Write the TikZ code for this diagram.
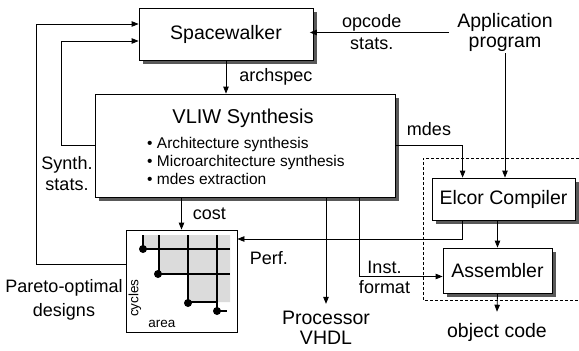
\documentclass[tikz,border=0pt]{standalone}
\usepackage{fontspec}
\setmainfont{Liberation Sans}
\usetikzlibrary{arrows.meta,shadows}

\begin{document}
\begin{tikzpicture}[
  x=1pt,y=-1pt,
  every node/.style={font=\fontsize{18}{21}\selectfont,align=center,inner sep=1pt},
  box/.style={draw,fill=white,line width=0.8pt,inner sep=0pt,font=\fontsize{19.5}{22}\selectfont,
    general shadow={fill=black!65,shadow xshift=3.5pt,shadow yshift=-3.5pt}},
  arr/.style={-{Triangle[length=7pt,width=5.5pt]},line width=0.8pt},
  bigtext/.style={font=\fontsize{19.5}{20.5}\selectfont},
  listtext/.style={font=\fontsize{15.5}{18}\selectfont,align=left},
  axis/.style={font=\fontsize{13.5}{14}\selectfont},
  frontier/.style={line width=1.4pt}
]
\useasboundingbox (0,0) rectangle (579,351);

% dashed frame round the compiler
\draw[line width=0.6pt,dash pattern=on 3pt off 2pt] (579,158) -- (423,158) -- (423,300) -- (579,300);

\node[box,minimum width=174pt,minimum height=52pt] (sw) at (226,34) {Spacewalker};
\node[box,minimum width=300pt,minimum height=103pt] (vliw) at (245,145.5) {};
\node[font=\fontsize{20}{22}\selectfont] (vliwtitle) at (243,118) {VLIW Synthesis};
\node[listtext,anchor=west] (vliwlist) at (146,161) {\textbullet\ Architecture synthesis\\\textbullet\ Microarchitecture synthesis\\\textbullet\ mdes extraction};
\node[box,minimum width=143pt,minimum height=42pt] (elcor) at (503.5,199) {Elcor Compiler};
\node[box,minimum width=109pt,minimum height=45pt] (asm) at (497.5,270.5) {Assembler};

\node[bigtext] (app) at (505,32.5) {Application\\program};
\node[bigtext] (vhdl) at (326,328) {Processor\\VHDL};
\node[bigtext] (objcode) at (497,332) {object code};
\node (synth) at (67,174) {Synth.\\stats.};
\node[font=\fontsize{18}{24}\selectfont] (paretolbl) at (64,300) {Pareto-optimal\\designs};

% pareto plot
\node[draw,line width=0.8pt,minimum width=111pt,minimum height=102pt,inner sep=0pt] (pareto) at (181.5,281) {};
\fill[black!14] (143,235) -- (230,235) -- (230,302) -- (188,302) -- (188,274) -- (159,274) -- (159,249) -- (143,249) -- cycle;
\draw[frontier] (143,235) -- (143,249) -- (230,249);
\draw[frontier] (159,235) -- (159,274) -- (230,274);
\draw[frontier] (188,235) -- (188,302) -- (218,302);
\draw[frontier] (217,235) -- (217,311) -- (227,311);
\foreach \px/\py in {143/249,158/274,188/303,217/311}
  \fill (\px,\py) circle (4pt);
\node[axis,rotate=90] (cycles) at (135,298) {cycles};
\node[axis] (area) at (162,324) {area};

% connectors
\draw[arr,shorten >=-3.5pt] ([xshift=-7pt]app.west) -- node[pos=0.57,above]{opcode} node[pos=0.57,below=4pt]{stats.} (app.west -| sw.east);
\draw[arr] (app.south) -- (app.south |- elcor.north);
\draw[arr] (sw.south) -- node[right=12pt]{archspec} (sw.south |- vliw.north);
\draw[arr] (vliw.west) -- ++(-33,0) |- ([yshift=-7pt]sw.west);
\draw[arr] ([yshift=17pt]pareto.west) -- ++(-89,0) |- ([yshift=10pt]sw.west);
\draw[arr] (vliw.south -| pareto.north) -- node[right=10pt]{cost} (pareto.north);
\draw[arr] (vhdl.north |- vliw.south) -- ([yshift=6pt]vhdl.north);
\draw[arr] ([xshift=265pt]vliw.south west) |- node[pos=0.65,above=1pt]{Inst.} node[pos=0.65,below=3pt]{format} ([yshift=-6pt]asm.west);
\draw[arr] (vliw.east) -| node[pos=0.25,above=8pt]{mdes} ([xshift=31pt]elcor.north west);
\draw[arr] (asm.north |- elcor.south) -- (asm.north);
\draw[arr] ([xshift=31pt]elcor.south west) |- node[pos=0.93,below=11pt]{Perf.} ([yshift=42pt]pareto.east);
\draw[arr] (asm.south) -- ([yshift=10pt]objcode.north);
\end{tikzpicture}
\end{document}
